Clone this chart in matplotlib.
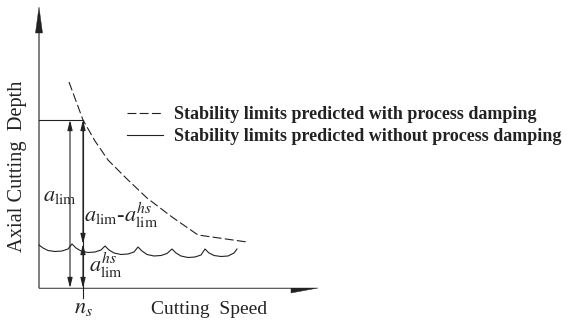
import matplotlib
matplotlib.use("Agg")
import matplotlib.pyplot as plt

plt.rcParams['mathtext.fontset'] = 'stix'
plt.rcParams['font.family'] = ['Liberation Serif', 'DejaVu Serif']

# stability limit with process damping (dashed)
speed_damped = [30, 37, 44, 56, 69, 88, 108, 133, 159, 208]
depth_damped = [206, 187, 168, 147, 128, 109, 90, 71, 53, 46]

# stability lobes without process damping (solid)
speed_lobes = [0, 4, 9, 16, 23, 29, 33,
               37, 42, 49, 56, 62, 66,
               70, 75, 82, 89, 95, 99,
               103, 108, 115, 122, 128, 133,
               137, 142, 149, 156, 162, 166,
               170, 175, 182, 189, 195, 198]
depth_lobes = [43, 40, 37.5, 36.5, 37, 39, 44,
               40, 37, 35.5, 36, 38, 42,
               38, 35, 33.5, 34, 36, 41,
               37, 33.5, 32, 32.5, 34.5, 39,
               35, 32, 30.5, 31, 33, 39,
               35, 32.5, 31.5, 32, 35, 39]

n_s = 44          # critical speed
a_lim = 168       # limit depth at n_s
a_hs = 44         # lobe level at n_s

fig = plt.figure(figsize=(5.67, 3.21), dpi=100)
ax = fig.add_axes([0, 0, 1, 1])
ax.set_xlim(-39, 528)
ax.set_ylim(-33, 288)
ax.axis('off')

ink = '#222222'

# axes with arrow heads
ax.arrow(0, 0, 279, 0, shape='left', head_width=10, head_length=27, width=0.5,
         length_includes_head=True, color=ink, lw=0.3)
ax.arrow(0, 0, 0, 281, shape='full', head_width=7, head_length=26, width=0.5,
         length_includes_head=True, color=ink, lw=0.3)

ax.plot(speed_damped, depth_damped, color=ink, lw=0.8, linestyle=(0, (8, 3)),
        label='Stability limits predicted with process damping')
ax.plot(speed_lobes, depth_lobes, color=ink, lw=0.8,
        label='Stability limits predicted without process damping')

# guide lines at n_s
ax.plot([0, n_s], [a_lim, a_lim], color=ink, lw=0.8)
ax.plot([n_s, n_s], [a_lim, -10], color=ink, lw=0.8)

arr = dict(arrowstyle='<|-|>,head_length=0.6,head_width=0.15', mutation_scale=10,
           color=ink, lw=0.8, shrinkA=0, shrinkB=0)
ax.annotate('', xy=(31, a_lim), xytext=(31, 0), arrowprops=arr)
ax.annotate('', xy=(n_s, a_lim), xytext=(n_s, a_hs), arrowprops=arr)
ax.annotate('', xy=(n_s, a_hs), xytext=(n_s, 0), arrowprops=arr)

ax.text(4, 92, r'$a_{\mathrm{lim}}$', fontsize=16, va='center', ha='left', color=ink)
ax.text(45, 73, r'$a_{\mathrm{lim}}$-$a_{\mathrm{lim}}^{hs}$', fontsize=16,
        va='center', ha='left', color=ink)
ax.text(50, 23, r'$a_{\mathrm{lim}}^{hs}$', fontsize=16, va='center', ha='left', color=ink)
ax.text(n_s, -21, r'$n_s$', fontsize=16, va='center', ha='center', color=ink)

ax.text(170, -21, 'Cutting  Speed', fontsize=14, va='center', ha='center', color=ink)
ax.text(-21, 122, 'Axial Cutting  Depth', fontsize=14.7, va='center', ha='center',
        rotation=90, color=ink)

ax.legend(loc='upper left', bbox_to_anchor=(127 / 567, 1 - 106 / 321), frameon=False,
          borderpad=0, borderaxespad=0, handlelength=2.0, handletextpad=0.6,
          labelspacing=0.3, prop={'family': 'Liberation Serif', 'weight': 'bold', 'size': 13},
          labelcolor=ink)

fig.savefig('out.png', dpi=100)
